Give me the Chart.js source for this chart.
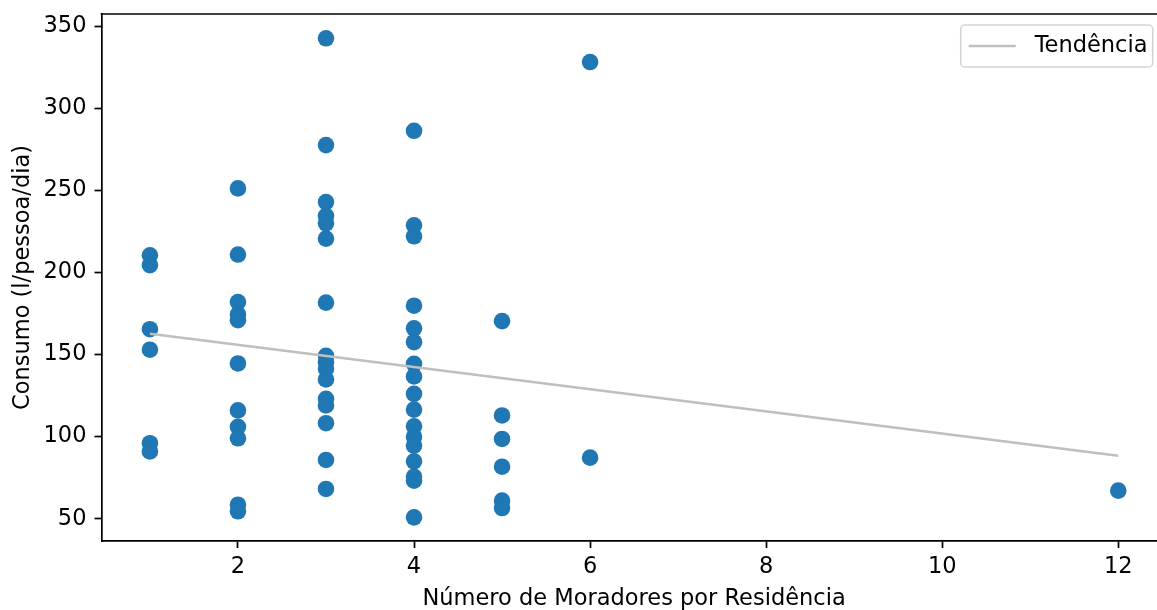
<!DOCTYPE html>
<html>
<head>
<meta charset="utf-8">
<script src="https://cdn.jsdelivr.net/npm/chart.js@4/dist/chart.umd.min.js"></script>
<style>
  html, body { margin: 0; padding: 0; background: #fff; overflow: hidden; width: 1157px; height: 610px; }
  #wrap { position: absolute; left: 0; top: 0; width: 1175px; height: 610px; }
</style>
</head>
<body>
<div id="wrap"><canvas id="c" width="1175" height="610"></canvas></div>
<script>
// Residents per household and daily consumption per person (l/pessoa/dia)
const MORADORES = [
  1, 1, 1, 1, 1, 1,
  2, 2, 2, 2, 2, 2, 2, 2, 2, 2, 2,
  3, 3, 3, 3, 3, 3, 3, 3, 3, 3, 3, 3, 3, 3, 3, 3,
  4, 4, 4, 4, 4, 4, 4, 4, 4, 4, 4, 4, 4, 4, 4, 4, 4,
  5, 5, 5, 5, 5, 5,
  6, 6,
  12
];
const CONSUMO = [
  210.5, 204.5, 165.5, 153, 96, 91,
  251.3, 211, 182, 174.5, 171, 144.6, 116, 106, 99, 58.5, 54.5,
  342.8, 277.7, 243, 234.5, 230, 220.7, 181.7, 149.3, 145.4, 141.4, 134.9, 123.1, 119, 108.2, 85.8, 68.1,
  286.4, 228.8, 222.1, 179.8, 166, 157.6, 144.4, 136.7, 126.1, 116.5, 106.3, 100, 94.6, 85, 75.6, 73.2, 50.8,
  170.4, 112.9, 98.6, 81.7, 61, 56.5,
  328.3, 87.2,
  67.1
];

// Fitted trend line end points
const TREND_X = [1, 12];
const TREND_Y = [162.7, 88.4];

const X_TICKS = [2, 4, 6, 8, 10, 12];
const Y_TICKS = [50, 100, 150, 200, 250, 300, 350];

const X_LABEL = 'Número de Moradores por Residência';
const Y_LABEL = 'Consumo (l/pessoa/dia)';
const TREND_LABEL = 'Tendência';

const FONT = { family: "'DejaVu Sans', sans-serif", size: 22.5, lineHeight: 1.2 };
const SPINE = 1.7;

// Top spine of the axes box
const topSpine = {
  id: 'topSpine',
  afterDraw(chart) {
    const { ctx, chartArea } = chart;
    ctx.save();
    ctx.strokeStyle = '#000';
    ctx.lineWidth = SPINE;
    ctx.beginPath();
    ctx.moveTo(chartArea.left - SPINE / 2, chartArea.top);
    ctx.lineTo(chartArea.right + SPINE / 2, chartArea.top);
    ctx.stroke();
    ctx.restore();
  }
};

// Framed legend in the upper right corner of the plot
const legendBox = {
  id: 'legendBox',
  afterDraw(chart) {
    const { ctx, chartArea } = chart;
    const ds = chart.data.datasets[0];
    const w = 192, h = 42;
    const x = chartArea.right - 14 - w;
    const y = chartArea.top + 11;
    const r = 4;
    ctx.save();
    ctx.beginPath();
    ctx.moveTo(x + r, y);
    ctx.lineTo(x + w - r, y);
    ctx.arcTo(x + w, y, x + w, y + r, r);
    ctx.lineTo(x + w, y + h - r);
    ctx.arcTo(x + w, y + h, x + w - r, y + h, r);
    ctx.lineTo(x + r, y + h);
    ctx.arcTo(x, y + h, x, y + h - r, r);
    ctx.lineTo(x, y + r);
    ctx.arcTo(x, y, x + r, y, r);
    ctx.closePath();
    ctx.fillStyle = 'rgba(255,255,255,0.8)';
    ctx.fill();
    ctx.strokeStyle = '#d4d4d4';
    ctx.lineWidth = 1.5;
    ctx.stroke();

    const cy = y + h / 2;
    ctx.strokeStyle = ds.borderColor;
    ctx.lineWidth = ds.borderWidth;
    ctx.beginPath();
    ctx.moveTo(x + 8, cy);
    ctx.lineTo(x + 55, cy);
    ctx.stroke();

    ctx.fillStyle = '#000';
    ctx.font = `${FONT.size}px ${FONT.family}`;
    ctx.textBaseline = 'middle';
    ctx.textAlign = 'left';
    ctx.fillText(ds.label, x + 74, cy);
    ctx.restore();
  }
};

// Keep the plot box fixed: no extra room reserved for edge tick labels
function noEdgePadding(s) {
  s.paddingTop = 0;
  s.paddingBottom = 0;
  s.paddingLeft = 0;
  s.paddingRight = 0;
}

const trendPoints = TREND_X.map((x, i) => ({ x: x, y: TREND_Y[i] }));
const points = MORADORES.map((x, i) => ({ x: x, y: CONSUMO[i] }));

new Chart(document.getElementById('c'), {
  type: 'scatter',
  data: {
    datasets: [
      {
        type: 'line',
        label: TREND_LABEL,
        data: trendPoints,
        borderColor: '#bfbfbf',
        borderWidth: 2.6,
        pointRadius: 0,
        fill: false,
        order: 0
      },
      {
        label: 'Consumo',
        data: points,
        backgroundColor: '#1f77b4',
        borderColor: '#1f77b4',
        borderWidth: 0,
        pointRadius: 8.3,
        pointHoverRadius: 8.3,
        order: 1
      }
    ]
  },
  options: {
    responsive: false,
    animation: false,
    devicePixelRatio: 1,
    layout: { padding: { top: 14, right: 6, left: 0, bottom: 0 } },
    plugins: { legend: { display: false }, tooltip: { enabled: false } },
    scales: {
      x: {
        type: 'linear',
        position: 'bottom',
        min: 0.45,
        max: 12.55,
        afterFit(s) { s.height = 69; noEdgePadding(s); },
        afterBuildTicks(s) { s.ticks = X_TICKS.map(v => ({ value: v })); },
        grid: { drawOnChartArea: false, drawTicks: true, tickLength: 7, tickWidth: SPINE, color: '#000' },
        border: { display: true, color: '#000', width: SPINE },
        ticks: { font: FONT, color: '#000', padding: 6, maxRotation: 0, autoSkip: false },
        title: { display: true, text: X_LABEL, font: FONT, color: '#000', padding: { top: 0, bottom: -2.5 } }
      },
      y: {
        type: 'linear',
        position: 'left',
        min: 36.4,
        max: 357.6,
        afterFit(s) { s.width = 101.5; noEdgePadding(s); },
        afterBuildTicks(s) { s.ticks = Y_TICKS.map(v => ({ value: v })); },
        grid: { drawOnChartArea: false, drawTicks: true, tickLength: 7, tickWidth: SPINE, color: '#000' },
        border: { display: true, color: '#000', width: SPINE },
        ticks: { font: FONT, color: '#000', padding: 8, autoSkip: false },
        title: { display: true, text: Y_LABEL, font: FONT, color: '#000', padding: { top: 10, bottom: 0 } }
      }
    }
  },
  plugins: [topSpine, legendBox]
});
</script>
</body>
</html>
